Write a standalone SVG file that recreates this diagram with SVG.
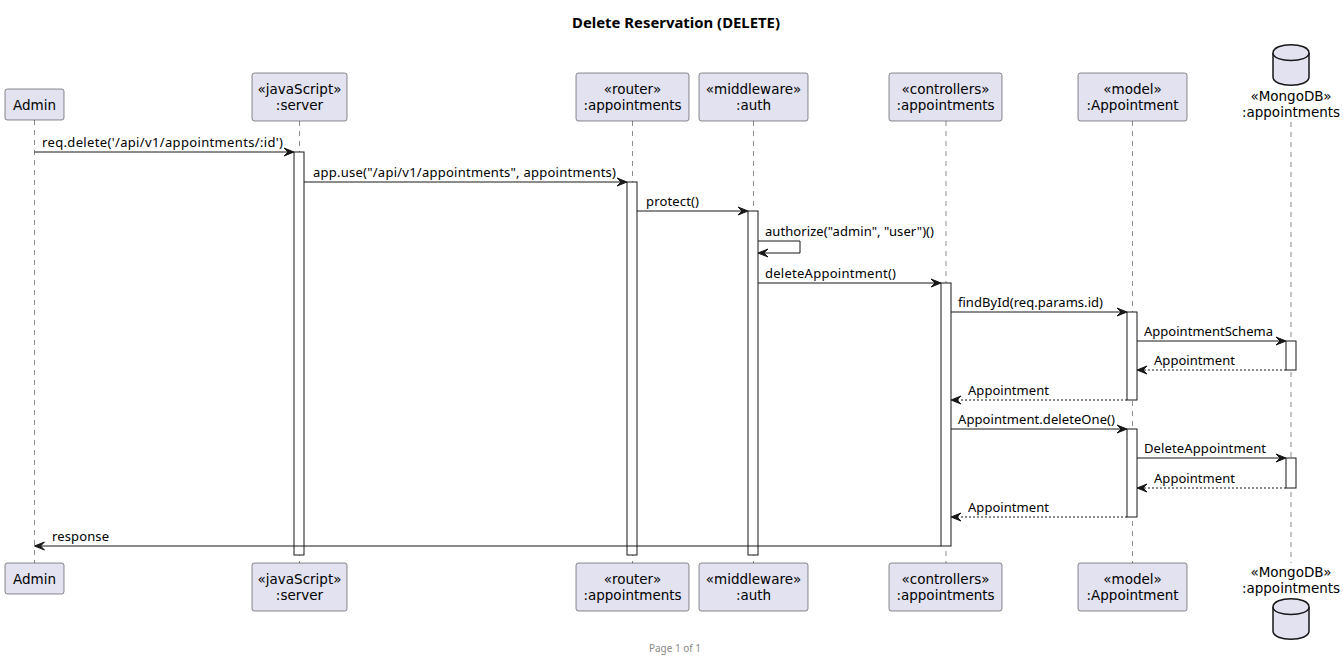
<svg xmlns="http://www.w3.org/2000/svg" width="1343" height="662" viewBox="0 0 1343 662">
<style>
  .box { fill: #E2E2F0; stroke: #181818; stroke-width: 0.5; }
  .db { fill: #E2E2F0; stroke: #181818; stroke-width: 1.5; }
  .life { stroke: #181818; stroke-width: 0.5; stroke-dasharray: 5,5; fill: none; }
  .act { fill: #FFFFFF; stroke: #181818; stroke-width: 1; }
  .msg { stroke: #181818; stroke-width: 1; fill: none; }
  .ret { stroke: #181818; stroke-width: 1; fill: none; stroke-dasharray: 2,2; }
  .head { fill: #181818; stroke: #181818; stroke-width: 1; }
  .pt { font-family: "DejaVu Sans", "Noto Sans", sans-serif; font-size: 13.5px; fill: #000000; text-anchor: middle; }
  .lbl { font-family: "Noto Sans", "DejaVu Sans", sans-serif; font-size: 13px; fill: #000000; }
  .title { font-family: "Noto Sans", "DejaVu Sans", sans-serif; font-size: 14px; font-weight: bold; fill: #000000; }
  .foot { font-family: "Noto Sans", "DejaVu Sans", sans-serif; font-size: 10px; fill: #888888; }
</style>

<text class="title" x="572" y="28" textLength="208" lengthAdjust="spacingAndGlyphs">Delete Reservation (DELETE)</text>

<g id="lifelines">
  <line class="life" x1="34.5" y1="120" x2="34.5" y2="563"/>
  <line class="life" x1="299.5" y1="121" x2="299.5" y2="563"/>
  <line class="life" x1="632.5" y1="121" x2="632.5" y2="563"/>
  <line class="life" x1="753.5" y1="121" x2="753.5" y2="563"/>
  <line class="life" x1="946" y1="121" x2="946" y2="563"/>
  <line class="life" x1="1132.5" y1="121" x2="1132.5" y2="563"/>
  <line class="life" x1="1291" y1="122" x2="1291" y2="563"/>
</g>

<g id="admin">
  <rect class="box" x="5" y="89" width="59" height="31" rx="2.5"/>
  <text class="pt" x="34.5" y="110">Admin</text>
  <rect class="box" x="5" y="563" width="59" height="31" rx="2.5"/>
  <text class="pt" x="34.5" y="584">Admin</text>
</g>

<g id="server">
  <rect class="box" x="252" y="73" width="95" height="48" rx="2.5"/>
  <text class="pt" x="299.5" y="94">«javaScript»</text>
  <text class="pt" x="299.5" y="110">:server</text>
  <rect class="box" x="252" y="563" width="95" height="48" rx="2.5"/>
  <text class="pt" x="299.5" y="584">«javaScript»</text>
  <text class="pt" x="299.5" y="600">:server</text>
</g>

<g id="router">
  <rect class="box" x="576" y="73" width="113" height="48" rx="2.5"/>
  <text class="pt" x="632.5" y="94">«router»</text>
  <text class="pt" x="632.5" y="110">:appointments</text>
  <rect class="box" x="576" y="563" width="113" height="48" rx="2.5"/>
  <text class="pt" x="632.5" y="584">«router»</text>
  <text class="pt" x="632.5" y="600">:appointments</text>
</g>

<g id="auth">
  <rect class="box" x="699" y="73" width="109" height="48" rx="2.5"/>
  <text class="pt" x="753.5" y="94">«middleware»</text>
  <text class="pt" x="753.5" y="110">:auth</text>
  <rect class="box" x="699" y="563" width="109" height="48" rx="2.5"/>
  <text class="pt" x="753.5" y="584">«middleware»</text>
  <text class="pt" x="753.5" y="600">:auth</text>
</g>

<g id="controllers">
  <rect class="box" x="889" y="73" width="113" height="48" rx="2.5"/>
  <text class="pt" x="945.5" y="94">«controllers»</text>
  <text class="pt" x="945.5" y="110">:appointments</text>
  <rect class="box" x="889" y="563" width="113" height="48" rx="2.5"/>
  <text class="pt" x="945.5" y="584">«controllers»</text>
  <text class="pt" x="945.5" y="600">:appointments</text>
</g>

<g id="model">
  <rect class="box" x="1078" y="73" width="109" height="48" rx="2.5"/>
  <text class="pt" x="1132.5" y="94">«model»</text>
  <text class="pt" x="1132.5" y="110">:Appointment</text>
  <rect class="box" x="1078" y="563" width="109" height="48" rx="2.5"/>
  <text class="pt" x="1132.5" y="584">«model»</text>
  <text class="pt" x="1132.5" y="600">:Appointment</text>
</g>

<g id="mongodb">
  <path class="db" d="M1273,53 C1273,42 1309,42 1309,53 L1309,77 C1309,88 1273,88 1273,77 Z"/>
  <path class="db" d="M1273,53 C1273,63 1309,63 1309,53" fill="none"/>
  <text class="pt" x="1291" y="101">«MongoDB»</text>
  <text class="pt" x="1291" y="117">:appointments</text>
  <text class="pt" x="1291" y="577">«MongoDB»</text>
  <text class="pt" x="1291" y="593">:appointments</text>
  <path class="db" d="M1273,607 C1273,596 1309,596 1309,607 L1309,631 C1309,642 1273,642 1273,631 Z"/>
  <path class="db" d="M1273,607 C1273,617 1309,617 1309,607" fill="none"/>
</g>

<g id="activations">
  <rect class="act" x="294" y="152" width="10" height="403"/>
  <rect class="act" x="627" y="182" width="10" height="373"/>
  <rect class="act" x="748" y="211" width="10" height="344"/>
  <rect class="act" x="941" y="283" width="10" height="263"/>
  <rect class="act" x="1127" y="312" width="10" height="88"/>
  <rect class="act" x="1127" y="429" width="10" height="88"/>
  <rect class="act" x="1286" y="341" width="10" height="29"/>
  <rect class="act" x="1286" y="458" width="10" height="30"/>
</g>

<g id="connectors">
  <line class="msg" x1="34.5" y1="152" x2="292" y2="152"/>
  <polygon class="head" points="284,148 294,152 284,156 288,152"/>
  <text class="lbl" x="42" y="147" textLength="241" lengthAdjust="spacing">req.delete('/api/v1/appointments/:id')</text>

  <line class="msg" x1="304" y1="182" x2="625" y2="182"/>
  <polygon class="head" points="617,178 627,182 617,186 621,182"/>
  <text class="lbl" x="313" y="177" textLength="303" lengthAdjust="spacing">app.use("/api/v1/appointments", appointments)</text>

  <line class="msg" x1="637" y1="211" x2="746" y2="211"/>
  <polygon class="head" points="738,207 748,211 738,215 742,211"/>
  <text class="lbl" x="646" y="206" textLength="53" lengthAdjust="spacing">protect()</text>

  <polyline class="msg" points="758,241 800,241 800,253 760,253"/>
  <polygon class="head" points="768,249 758,253 768,257 764,253"/>
  <text class="lbl" x="765" y="236" textLength="169" lengthAdjust="spacing">authorize("admin", "user")()</text>

  <line class="msg" x1="758" y1="283" x2="939" y2="283"/>
  <polygon class="head" points="931,279 941,283 931,287 935,283"/>
  <text class="lbl" x="765" y="278" textLength="131" lengthAdjust="spacing">deleteAppointment()</text>

  <line class="msg" x1="951" y1="312" x2="1125" y2="312"/>
  <polygon class="head" points="1117,308 1127,312 1117,316 1121,312"/>
  <text class="lbl" x="958" y="307" textLength="145" lengthAdjust="spacing">findById(req.params.id)</text>

  <line class="msg" x1="1137" y1="341" x2="1284" y2="341"/>
  <polygon class="head" points="1276,337 1286,341 1276,345 1280,341"/>
  <text class="lbl" x="1144" y="336" textLength="129" lengthAdjust="spacing">AppointmentSchema</text>

  <line class="ret" x1="1286" y1="370" x2="1139" y2="370"/>
  <polygon class="head" points="1147,366 1137,370 1147,374 1143,370"/>
  <text class="lbl" x="1154" y="365" textLength="81" lengthAdjust="spacing">Appointment</text>

  <line class="ret" x1="1127" y1="400" x2="953" y2="400"/>
  <polygon class="head" points="961,396 951,400 961,404 957,400"/>
  <text class="lbl" x="968" y="395" textLength="81" lengthAdjust="spacing">Appointment</text>

  <line class="msg" x1="951" y1="429" x2="1125" y2="429"/>
  <polygon class="head" points="1117,425 1127,429 1117,433 1121,429"/>
  <text class="lbl" x="958" y="424" textLength="157" lengthAdjust="spacing">Appointment.deleteOne()</text>

  <line class="msg" x1="1137" y1="458" x2="1284" y2="458"/>
  <polygon class="head" points="1276,454 1286,458 1276,462 1280,458"/>
  <text class="lbl" x="1144" y="453" textLength="122" lengthAdjust="spacing">DeleteAppointment</text>

  <line class="ret" x1="1286" y1="488" x2="1139" y2="488"/>
  <polygon class="head" points="1147,484 1137,488 1147,492 1143,488"/>
  <text class="lbl" x="1154" y="483" textLength="81" lengthAdjust="spacing">Appointment</text>

  <line class="ret" x1="1127" y1="517" x2="953" y2="517"/>
  <polygon class="head" points="961,513 951,517 961,521 957,517"/>
  <text class="lbl" x="968" y="512" textLength="81" lengthAdjust="spacing">Appointment</text>

  <line class="msg" x1="941" y1="546" x2="36" y2="546"/>
  <polygon class="head" points="44.5,542 34.5,546 44.5,550 40.5,546"/>
  <text class="lbl" x="52" y="541" textLength="57" lengthAdjust="spacing">response</text>
</g>

<text class="foot" x="675" y="652" text-anchor="middle">Page 1 of 1</text>
</svg>
